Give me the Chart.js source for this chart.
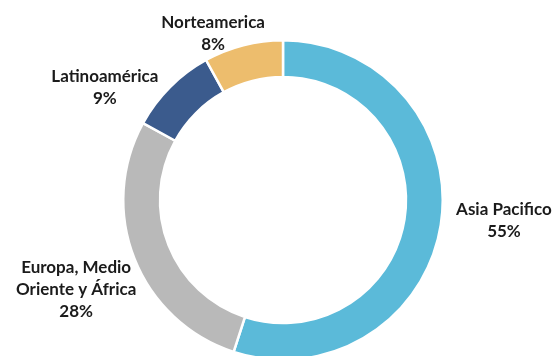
<!DOCTYPE html>
<html>
<head>
<meta charset="utf-8">
<script src="https://cdn.jsdelivr.net/npm/chart.js@4"></script>
<style>
  html, body { margin: 0; padding: 0; background: #fff; overflow: hidden; }
  #wrap { position: relative; width: 553px; height: 400px; }
</style>
</head>
<body>
<div id="wrap"><canvas id="donut"></canvas></div>
<script>
// ---------- data ----------
const regions = ["Asia Pacifico", "Europa, Medio Oriente y África", "Latinoamérica", "Norteamerica"];
const labelLines = [["Asia Pacifico"], ["Europa, Medio", "Oriente y África"], ["Latinoamérica"], ["Norteamerica"]];
const shares = [55, 28, 9, 8];
const colors = ["#5BBAD9", "#B9B9B9", "#3B5B8D", "#EDBD6D"];

// ---------- outside labels, Excel-ish "outside end" ----------
const FONT = "bold 17px Lato";
const LINE_H = 22;
const PAD = 9;
// hand nudges so the labels sit where the original put them
const nudges = [[7, -9], [6, 15], [-21, 22], [-15, 18]];

const outsideLabels = {
  id: "outsideLabels",
  afterDatasetsDraw(chart) {
    const ctx = chart.ctx;
    const meta = chart.getDatasetMeta(0);
    ctx.save();
    ctx.font = FONT;
    ctx.fillStyle = "#1b1b1b";
    ctx.textAlign = "center";
    ctx.textBaseline = "middle";
    meta.data.forEach((arc, i) => {
      const { x, y, startAngle, endAngle, outerRadius } = arc.getProps(["x", "y", "startAngle", "endAngle", "outerRadius"], true);
      const mid = (startAngle + endAngle) / 2;
      const dx = Math.cos(mid), dy = Math.sin(mid);
      const lines = [...labelLines[i], shares[i] + "%"];
      const w = Math.max(...lines.map(l => ctx.measureText(l).width));
      const h = lines.length * LINE_H;
      const ax = x + dx * (outerRadius + PAD);
      const ay = y + dy * (outerRadius + PAD);
      const cx = ax + dx * w / 2 + nudges[i][0];
      const cy = ay + dy * h / 2 + nudges[i][1];
      lines.forEach((l, k) => {
        ctx.fillText(l, cx, cy - h / 2 + LINE_H * (k + 0.5));
      });
    });
    ctx.restore();
  }
};

new Chart(document.getElementById("donut").getContext("2d"), {
  type: "doughnut",
  data: {
    labels: regions,
    datasets: [{
      data: shares,
      backgroundColor: colors,
      borderColor: "#ffffff",
      borderWidth: 2.5,
      hoverOffset: 0
    }]
  },
  options: {
    responsive: true,
    maintainAspectRatio: false,
    animation: false,
    cutout: "77%",
    layout: { padding: { top: 39, bottom: 39, left: 13, right: 0 } },
    plugins: {
      legend: { display: false },
      tooltip: { enabled: false }
    }
  },
  plugins: [outsideLabels]
});
</script>
</body>
</html>
